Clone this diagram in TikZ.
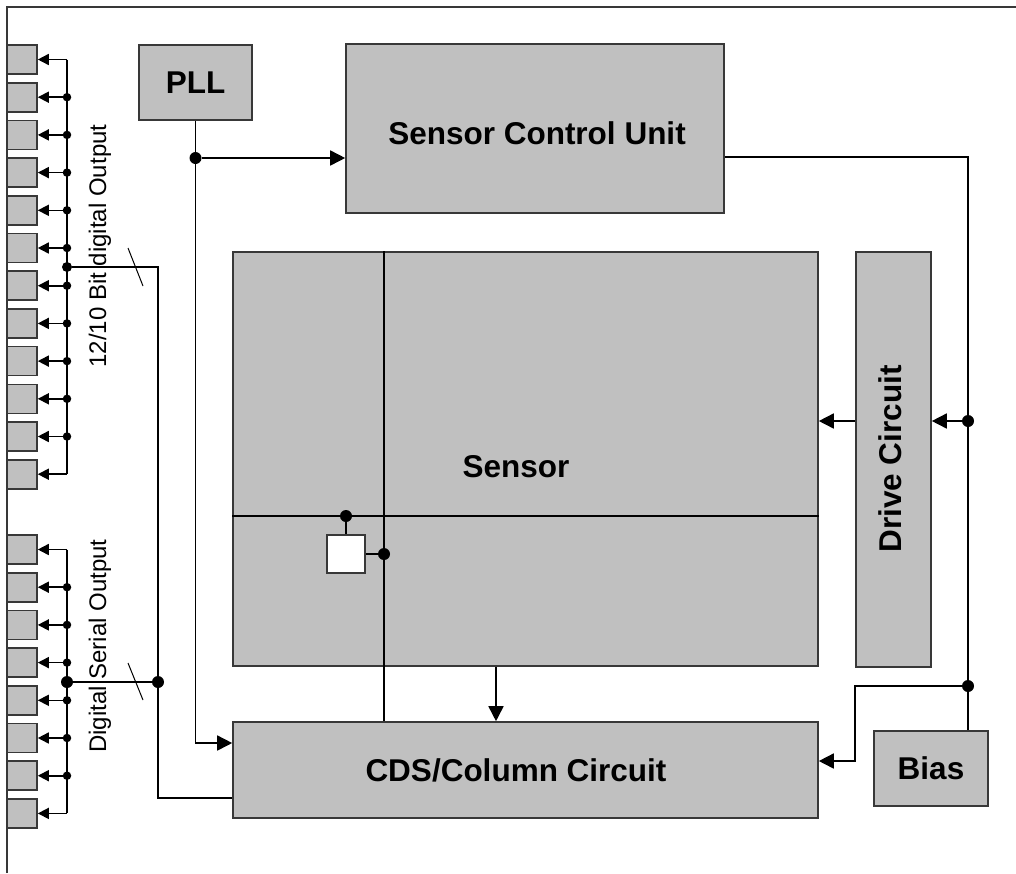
\documentclass[tikz,border=0pt]{standalone}
\usepackage{fontspec}
\setmainfont{Liberation Sans}
\usetikzlibrary{arrows.meta,positioning,calc}
\definecolor{blkgray}{HTML}{C0C0C0}
\definecolor{rimgray}{HTML}{383838}
\tikzset{
  blk/.style={draw=rimgray, fill=blkgray, line width=1.6pt, inner sep=0pt,
              font=\bfseries\fontsize{31.5}{36}\selectfont},
  blktext/.style={font=\bfseries\fontsize{31.5}{36}\selectfont},
  padbox/.style={draw=rimgray, fill=blkgray, line width=1.6pt,
                 minimum width=30pt, minimum height=29pt, inner sep=0pt},
  wire/.style={line width=1.6pt},
  bigdot/.style={circle, fill, inner sep=0pt, minimum size=12pt},
  smalldot/.style={circle, fill, inner sep=0pt, minimum size=8.5pt},
  arr/.style={wire, -{Triangle[length=15pt,width=15pt]}},
  padarr/.style={wire, -{Triangle[length=11pt,width=11pt]}},
  buslbl/.style={font=\fontsize{24}{28}\selectfont, rotate=90},
}
\begin{document}
\begin{tikzpicture}[x=1pt,y=-1pt]
  \useasboundingbox (0,0) rectangle (1016,873);
  \draw[rimgray, line width=1.5pt] (7,873) -- (7,7) -- (1016,7);

  % main blocks
  \node[blk, minimum width=113pt, minimum height=75pt]  (pll)    at (195.5,82.5) {PLL};
  \node[blk, minimum width=378pt, minimum height=169pt] (scu)    at (535,128.5)  {};
  \node[blk, minimum width=585pt, minimum height=414pt] (sensor) at (525.5,459)  {};
  \node[blk, minimum width=75pt,  minimum height=415pt] (drive)  at (893.5,459.5) {};
  \node[blk, minimum width=585pt, minimum height=96pt]  (cds)    at (525.5,770)  {};
  \node[blk, minimum width=114pt, minimum height=75pt]  (bias)   at (931,768.5)  {Bias};
  \node[blktext] (sculbl) at (537,133) {Sensor Control Unit};
  \node[blktext] (sensorlbl) at (516,467) {Sensor};
  \node[blktext, rotate=90] (drivelbl) at (890,459) {Drive Circuit};
  \node[blktext] (cdslbl) at (516,770) {CDS/Column Circuit};

  % pixel inside the array
  \draw[wire] (sensor.west |- 0,516) -- (sensor.east |- 0,516);
  \draw[wire] (sensor.north -| 384,0) -- (cds.north -| 384,0);
  \node[draw=rimgray, fill=white, line width=1.6pt, minimum size=38pt, inner sep=0pt] (pix) at (346,554) {};
  \node[bigdot] (rowdot) at (346,516) {};
  \node[bigdot] (coldot) at (384,554) {};
  \draw[wire] (rowdot) -- (pix.north);
  \draw[wire] (pix.east) -- (coldot);
  \draw[arr] (sensor.south -| 496,0) -- (cds.north -| 496,0);

  % clock
  \node[bigdot] (clkdot) at (pll.south |- 0,158) {};
  \draw[arr] (clkdot) -- (clkdot -| scu.west);
  \draw[arr] (pll.south) |- (cds.west |- 0,743);

  % control and bias rail
  \node[bigdot] (drvdot)  at (968,421) {};
  \node[bigdot] (biasdot) at (968,686) {};
  \draw[wire] (scu.east |- 0,157) -| (bias.north -| biasdot);
  \draw[arr] (drvdot) -- (drvdot -| drive.east);
  \draw[arr] (drvdot -| drive.west) -- (drvdot -| sensor.east);
  \draw[arr] (biasdot) -- (biasdot -| drive.west) |- (cds.east |- 0,761);

  % output pads
  \coordinate (obus) at (67,0);
  \foreach \i in {0,...,11}
    \node[padbox] (p\i) at (22,59.5+37.7*\i) {};
  \foreach \i in {0,...,7}
    \node[padbox] (s\i) at (22,549.5+37.7*\i) {};
  \draw[wire] (p0.east -| obus) -- (p11.east -| obus);
  \draw[wire] (s0.east -| obus) -- (s7.east -| obus);
  \foreach \i in {0,...,11}
    \draw[padarr] (p\i.east -| obus) -- (p\i.east);
  \foreach \i in {0,...,7}
    \draw[padarr] (s\i.east -| obus) -- (s\i.east);
  \foreach \i in {1,...,10}
    \node[smalldot] (pd\i) at (p\i.east -| obus) {};
  \foreach \i in {1,...,6}
    \node[smalldot] (sd\i) at (s\i.east -| obus) {};

  % output buses
  \node[smalldot, minimum size=10pt] (obusdot) at (67,267) {};
  \node[bigdot] (sbusdot) at (67,682) {};
  \node[bigdot] (serdot) at (158,682) {};
  \draw[wire] (obusdot) -| (serdot) |- (cds.west |- 0,798);
  \draw[wire] (sbusdot) -- (serdot);
  \draw[line width=1pt] (128,248) -- (143,286);
  \draw[line width=1pt] (128,663) -- (143,700);
  \node[buslbl] (olbl) at (100,246) {12/10 Bit digital Output};
  \node[buslbl] (slbl) at (100,646) {Digital Serial Output};
\end{tikzpicture}
\end{document}
